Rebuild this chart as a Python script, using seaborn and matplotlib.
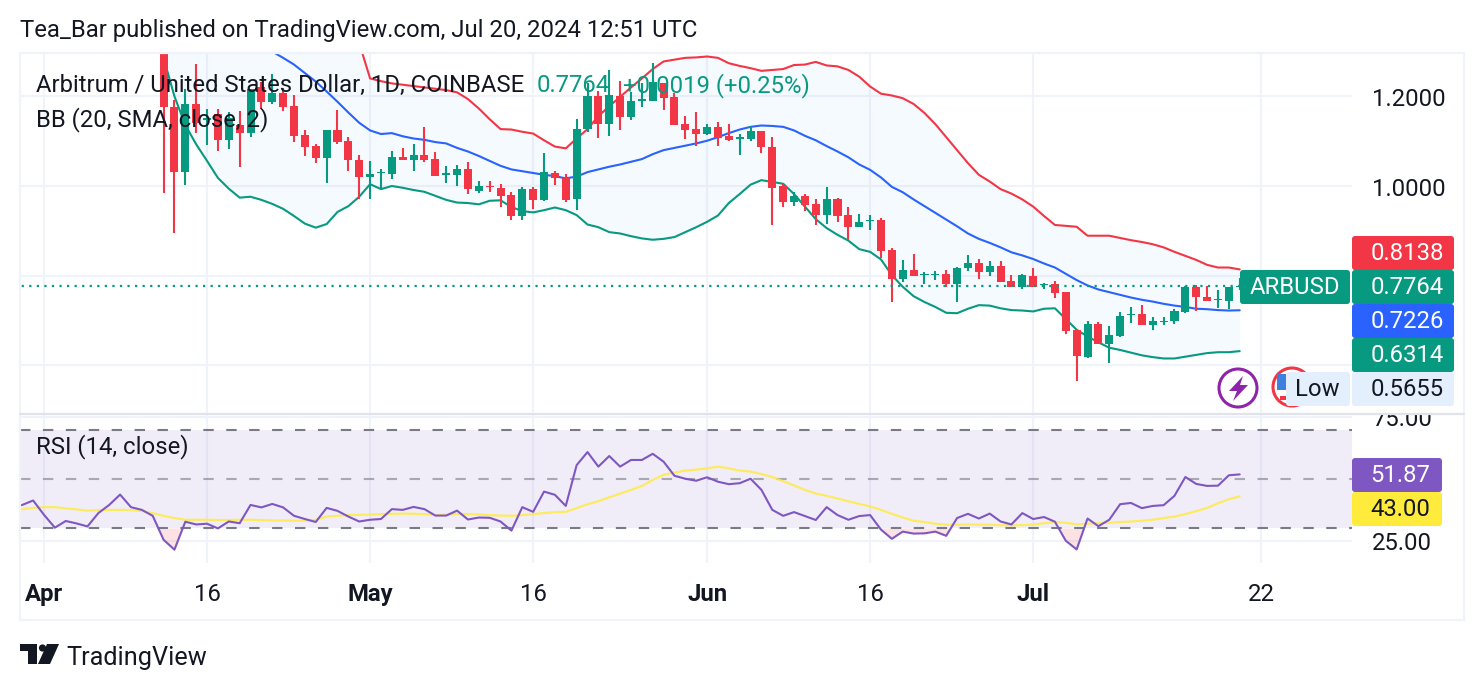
import numpy as np
import pandas as pd
import seaborn as sns
import matplotlib
matplotlib.use("Agg")
import matplotlib.pyplot as plt
from matplotlib.patches import Rectangle, FancyBboxPatch, Circle, Polygon
from matplotlib.transforms import ScaledTranslation

# Daily ARBUSD candles, 12 Apr to 20 Jul 2024
open_ = [1.34, 1.177, 1.032, 1.183, 1.147, 1.161, 1.103, 1.136, 1.119, 1.220,
         1.188, 1.208, 1.179, 1.114, 1.089, 1.063, 1.125, 1.100, 1.058, 1.021,
         1.028, 1.027, 1.064, 1.059, 1.069, 1.060, 1.025, 1.025, 1.039, 0.989,
         1.001, 0.995, 0.980, 0.934, 0.993, 0.969, 1.028, 1.017, 0.970, 1.127,
         1.201, 1.138, 1.201, 1.154, 1.190, 1.190, 1.229, 1.199, 1.138, 1.127,
         1.116, 1.131, 1.111, 1.105, 1.105, 1.122, 1.086, 0.999, 0.964, 0.978,
         0.960, 0.935, 0.972, 0.935, 0.909, 0.921, 0.924, 0.857, 0.792, 0.812,
         0.801, 0.801, 0.803, 0.781, 0.816, 0.827, 0.808, 0.821, 0.788, 0.775,
         0.800, 0.778, 0.781, 0.763, 0.678, 0.618, 0.692, 0.648, 0.665, 0.711,
         0.714, 0.690, 0.696, 0.699, 0.719, 0.774, 0.752, 0.745, 0.744, 0.7745]
close = [1.177, 1.032, 1.183, 1.141, 1.151, 1.103, 1.151, 1.118, 1.216, 1.188,
         1.208, 1.177, 1.112, 1.088, 1.063, 1.125, 1.098, 1.057, 1.021, 1.027,
         1.031, 1.064, 1.057, 1.069, 1.058, 1.023, 1.029, 1.039, 0.993, 1.001,
         0.997, 0.978, 0.934, 0.993, 0.969, 1.031, 1.017, 0.969, 1.127, 1.201,
         1.138, 1.203, 1.154, 1.190, 1.194, 1.231, 1.197, 1.137, 1.125, 1.117,
         1.131, 1.108, 1.103, 1.109, 1.122, 1.086, 0.996, 0.964, 0.978, 0.958,
         0.935, 0.972, 0.933, 0.909, 0.920, 0.924, 0.856, 0.792, 0.812, 0.798,
         0.804, 0.804, 0.781, 0.818, 0.829, 0.808, 0.821, 0.786, 0.775, 0.801,
         0.775, 0.781, 0.761, 0.676, 0.621, 0.692, 0.648, 0.667, 0.710, 0.714,
         0.690, 0.699, 0.699, 0.721, 0.774, 0.752, 0.744, 0.748, 0.774, 0.7764]
high = [1.40, 1.192, 1.216, 1.272, 1.171, 1.171, 1.166, 1.167, 1.216, 1.231,
        1.250, 1.218, 1.203, 1.125, 1.094, 1.126, 1.170, 1.109, 1.069, 1.055,
        1.039, 1.077, 1.085, 1.093, 1.131, 1.075, 1.045, 1.047, 1.053, 1.012,
        1.011, 1.004, 0.986, 0.997, 0.997, 1.073, 1.034, 1.026, 1.150, 1.229,
        1.211, 1.259, 1.234, 1.210, 1.229, 1.274, 1.229, 1.208, 1.156, 1.165,
        1.138, 1.143, 1.138, 1.115, 1.135, 1.122, 1.109, 1.006, 0.987, 0.981,
        0.972, 0.998, 0.973, 0.952, 0.938, 0.935, 0.928, 0.861, 0.835, 0.848,
        0.807, 0.811, 0.813, 0.820, 0.845, 0.836, 0.833, 0.833, 0.801, 0.803,
        0.816, 0.783, 0.788, 0.764, 0.679, 0.699, 0.696, 0.688, 0.719, 0.730,
        0.734, 0.708, 0.708, 0.725, 0.777, 0.779, 0.777, 0.768, 0.775, 0.795]
low = [0.985, 0.896, 1.003, 1.119, 1.092, 1.079, 1.082, 1.043, 1.109, 1.171,
       1.183, 1.167, 1.099, 1.066, 1.052, 1.006, 1.094, 1.034, 0.970, 0.970,
       0.994, 1.016, 1.057, 1.034, 1.054, 1.022, 1.007, 0.999, 0.982, 0.984,
       0.987, 0.952, 0.924, 0.924, 0.949, 0.967, 1.002, 0.964, 0.946, 1.121,
       1.107, 1.112, 1.124, 1.147, 1.177, 1.190, 1.170, 1.136, 1.105, 1.089,
       1.113, 1.089, 1.101, 1.070, 1.101, 1.074, 0.914, 0.952, 0.956, 0.944,
       0.914, 0.916, 0.920, 0.880, 0.909, 0.901, 0.839, 0.742, 0.786, 0.798,
       0.781, 0.790, 0.775, 0.742, 0.811, 0.793, 0.800, 0.786, 0.775, 0.769,
       0.774, 0.769, 0.751, 0.670, 0.5655, 0.615, 0.647, 0.606, 0.662, 0.694,
       0.690, 0.679, 0.689, 0.693, 0.717, 0.722, 0.743, 0.728, 0.725, 0.768]

# Bollinger Bands (20, SMA, close, 2), 11 Apr to 20 Jul
bb_upper = [1.70, 1.72, 1.72, 1.70, 1.68, 1.66, 1.64, 1.62, 1.60, 1.58,
            1.56, 1.54, 1.52, 1.50, 1.47, 1.44, 1.41, 1.38, 1.35, 1.319,
            1.240, 1.234, 1.229, 1.226, 1.223, 1.220, 1.217, 1.214, 1.209,
            1.194, 1.173, 1.149, 1.127, 1.126, 1.121, 1.117, 1.102, 1.088, 1.084,
            1.106, 1.127, 1.156, 1.178, 1.199, 1.220, 1.240, 1.261, 1.278, 1.282,
            1.286, 1.287, 1.289, 1.286, 1.274, 1.268, 1.263, 1.257, 1.259, 1.261,
            1.270, 1.271, 1.277, 1.269, 1.267, 1.259, 1.244, 1.222, 1.206, 1.202,
            1.196, 1.183, 1.163, 1.138, 1.109, 1.080, 1.051, 1.025, 1.010, 0.993,
            0.983, 0.970, 0.954, 0.933, 0.913, 0.911, 0.909, 0.889, 0.889, 0.889,
            0.884, 0.879, 0.875, 0.870, 0.863, 0.853, 0.844, 0.835, 0.824, 0.818,
            0.818, 0.8138]
bb_basis = [1.46, 1.45, 1.43, 1.41, 1.39, 1.375, 1.36, 1.345, 1.335, 1.325,
            1.315, 1.300, 1.286, 1.271, 1.252, 1.233, 1.211, 1.188, 1.164, 1.141,
            1.124, 1.116, 1.118, 1.111, 1.106, 1.103, 1.098, 1.095, 1.085,
            1.077, 1.067, 1.056, 1.045, 1.037, 1.033, 1.029, 1.025, 1.022, 1.017,
            1.021, 1.031, 1.037, 1.043, 1.048, 1.054, 1.060, 1.071, 1.080, 1.085,
            1.090, 1.095, 1.101, 1.109, 1.118, 1.126, 1.132, 1.135, 1.134, 1.132,
            1.124, 1.112, 1.102, 1.089, 1.077, 1.064, 1.048, 1.036, 1.019, 0.998,
            0.986, 0.970, 0.955, 0.940, 0.925, 0.910, 0.894, 0.882, 0.873, 0.863,
            0.852, 0.845, 0.837, 0.827, 0.818, 0.804, 0.790, 0.778, 0.769, 0.763,
            0.757, 0.751, 0.746, 0.742, 0.737, 0.733, 0.730, 0.726, 0.725, 0.723,
            0.722, 0.7226]
bb_lower = [1.40, 1.286, 1.200, 1.136, 1.093, 1.056, 1.018, 0.994, 0.974, 0.976,
            0.969, 0.960, 0.949, 0.933, 0.916, 0.907, 0.915, 0.942, 0.955, 0.976,
            1.004, 0.993, 1.000, 0.996, 0.991, 0.987, 0.978, 0.969, 0.963,
            0.962, 0.959, 0.967, 0.968, 0.953, 0.944, 0.941, 0.946, 0.952, 0.946,
            0.935, 0.914, 0.908, 0.897, 0.894, 0.888, 0.883, 0.880, 0.882, 0.886,
            0.897, 0.908, 0.920, 0.934, 0.962, 0.982, 1.003, 1.013, 1.009, 1.005,
            0.982, 0.954, 0.926, 0.906, 0.891, 0.878, 0.859, 0.853, 0.836, 0.801,
            0.775, 0.754, 0.741, 0.730, 0.717, 0.716, 0.726, 0.734, 0.733, 0.727,
            0.723, 0.722, 0.720, 0.726, 0.727, 0.703, 0.679, 0.664, 0.651, 0.639,
            0.634, 0.628, 0.622, 0.618, 0.615, 0.615, 0.619, 0.623, 0.627, 0.629,
            0.629, 0.6314]

# RSI (14, close) and its moving average, 29 Mar to 20 Jul
rsi = [38.9, 39.5, 41.3, 35.5, 30.3, 33.0, 32.0, 30.8, 36.2, 39.5, 43.7, 38.6, 37.5, 35.1,
       25.4, 21.4, 32.7, 31.6, 31.9, 30.0, 32.8, 32.1, 39.5, 38.5, 39.9, 38.5, 35.1, 33.8,
       32.6, 38.3, 37.1, 34.8, 32.8, 33.5, 33.8, 37.8, 37.5, 38.7, 37.8, 35.2, 35.2, 37.2,
       33.6, 34.4, 34.3, 32.8, 29.1, 38.6, 36.7, 44.9, 43.6, 39.1, 55.6, 60.9, 55.0, 59.3,
       55.0, 57.7, 57.7, 60.2, 57.0, 51.3, 50.1, 49.3, 50.7, 48.9, 47.9, 48.3, 50.1, 45.6,
       37.5, 35.1, 36.6, 35.0, 33.4, 38.6, 35.4, 33.5, 35.0, 35.4, 29.5, 25.8, 28.7, 27.9,
       28.0, 28.7, 27.0, 34.2, 35.9, 34.0, 36.0, 32.8, 31.6, 36.2, 33.8, 34.6, 32.7, 25.0,
       21.5, 34.0, 30.9, 33.5, 39.8, 40.3, 38.2, 39.1, 39.4, 43.2, 50.8, 48.0, 47.2, 47.3,
       51.5, 51.87]
rsi_ma = [37.8, 37.8, 38.3, 38.6, 38.6, 38.1, 37.7, 37.2, 37.4, 37.5, 37.5, 37.4, 37.1, 36.2,
          35.1, 34.2, 33.5, 33.5, 33.5, 33.4, 33.4, 33.5, 33.5, 33.4, 33.2, 33.2, 33.1, 33.1,
          33.5, 34.8, 35.1, 35.4, 35.5, 35.6, 35.8, 35.9, 36.0, 35.9, 35.8, 35.4, 35.5, 35.9,
          35.8, 35.6, 35.4, 35.2, 35.1, 35.4, 35.8, 36.2, 36.6, 36.7, 38.2, 39.8, 41.0, 42.6,
          44.1, 45.6, 47.2, 49.6, 51.7, 52.6, 53.4, 53.8, 54.3, 55.0, 54.3, 53.4, 53.0, 52.0,
          50.8, 49.1, 47.4, 45.6, 44.1, 43.2, 42.1, 41.0, 39.9, 38.9, 37.5, 35.9, 34.4, 33.1,
          32.6, 31.9, 31.5, 31.5, 31.6, 31.5, 31.5, 31.3, 31.2, 31.3, 31.6, 32.1, 32.6, 32.3,
          31.6, 31.9, 32.1, 32.3, 32.6, 32.8, 33.1, 33.5, 34.2, 34.8, 35.8, 37.0, 38.3, 40.2,
          41.8, 43.0]

price_ticks = [1.2, 1.0, 0.8, 0.6]
price_labels = ["1.2000", "1.0000", "", ""]
rsi_ticks = [75, 25]
rsi_labels = ["75.00", "25.00"]
date_ticks = ["2024-04-01", "2024-04-16", "2024-05-01", "2024-05-16",
              "2024-06-01", "2024-06-16", "2024-07-01", "2024-07-22"]
date_labels = ["Apr", "16", "May", "16", "Jun", "16", "Jul", "22"]
month_labels = {"Apr", "May", "Jun", "Jul"}

RED, GREEN, BLUE = "#F23645", "#089981", "#2962FF"
PURPLE, YELLOW = "#7E57C2", "#FFEB3B"
INK, GRID, EDGE = "#131722", "#F0F3FA", "#E0E3EB"
W, H = 1484, 690
TEXT_SIZE = 17.2

sns.set_theme(style="white")
plt.rcParams["font.family"] = ["Roboto", "DejaVu Sans"]

candles = pd.DataFrame({"open": open_, "high": high, "low": low, "close": close},
                       index=pd.date_range("2024-04-12", periods=len(open_)))
bands = pd.DataFrame({"upper": bb_upper, "basis": bb_basis, "lower": bb_lower},
                     index=pd.date_range("2024-07-20", periods=len(bb_upper), freq="-1D")[::-1])
osc = pd.DataFrame({"rsi": rsi, "ma": rsi_ma},
                   index=pd.date_range("2024-07-20", periods=len(rsi), freq="-1D")[::-1])
xlim = (pd.Timestamp("2024-04-01") - pd.Timedelta(days=2.208),
        pd.Timestamp("2024-04-01") + pd.Timedelta(days=120.33))


def pane(x0, y0, x1, y1, **kw):
    return fig.add_axes([x0 / W, 1 - y1 / H, (x1 - x0) / W, (y1 - y0) / H], **kw)


fig = plt.figure(figsize=(W / 100, H / 100), dpi=100, facecolor="white")
ax = pane(20, 54, 1352, 413)
ax_rsi = pane(20, 415, 1352, 563)

for a, ticks, labels in ((ax, price_ticks, price_labels), (ax_rsi, rsi_ticks, rsi_labels)):
    a.set_xlim(*xlim)
    a.set_xticks(pd.to_datetime(date_ticks))
    a.set_yticks(ticks)
    a.set_yticklabels(labels)
    a.yaxis.tick_right()
    a.tick_params(axis="y", length=0, pad=14.3, labelsize=TEXT_SIZE, labelcolor=INK)
    a.grid(True, color=GRID, linewidth=1.5)
    a.set_axisbelow(True)
    for s in a.spines.values():
        s.set_visible(False)
ax.set_ylim(0.4933, 1.2946)
ax_rsi.set_ylim(16.0, 75.9)
ax.tick_params(axis="x", labelbottom=False, length=0)

# Price pane: Bollinger channel under the candles
ax.fill_between(bands.index, bands["lower"], bands["upper"], color="#2196F3", alpha=0.045, lw=0)
sns.lineplot(x=bands.index, y=bands["upper"].values, ax=ax, color=RED, lw=1.5, legend=False)
sns.lineplot(x=bands.index, y=bands["basis"].values, ax=ax, color=BLUE, lw=1.5, legend=False)
sns.lineplot(x=bands.index, y=bands["lower"].values, ax=ax, color=GREEN, lw=1.5, legend=False)

up = candles["close"] >= candles["open"]
tones = np.where(up, GREEN, RED)
ax.vlines(candles.index, candles["low"], candles["high"], colors=tones, lw=1.5, zorder=3)
ax.bar(candles.index, (candles["close"] - candles["open"]).abs(),
       bottom=candles[["open", "close"]].min(axis=1), width=0.74, color=tones, lw=0, zorder=4)
ax.plot([bands.index[0] - pd.Timedelta(days=15), bands.index[-1]], [close[-1]] * 2,
        color=GREEN, lw=1.6, ls=(0, (1, 2.4)), zorder=5)
ax.set_xlim(*xlim)
ax.set_xlabel("")
ax.set_ylabel("")

# RSI pane
ax_rsi.axhspan(30, 70, color=PURPLE, alpha=0.1, lw=0)
for level, alpha in ((70, 1.0), (50, 0.6), (30, 1.0)):
    ax_rsi.axhline(level, color="#787B86", lw=1.5, alpha=alpha, ls=(0, (5, 6)))
ax_rsi.fill_between(osc.index, osc["rsi"], 30, where=osc["rsi"] < 30, interpolate=True,
                    color=RED, alpha=0.14, lw=0)
sns.lineplot(x=osc.index, y=osc["ma"].values, ax=ax_rsi, color=YELLOW, lw=1.6, alpha=0.8, legend=False)
sns.lineplot(x=osc.index, y=osc["rsi"].values, ax=ax_rsi, color=PURPLE, lw=1.5, legend=False)
ax_rsi.set_xlim(*xlim)
ax_rsi.set_xlabel("")
ax_rsi.set_ylabel("")
ax_rsi.set_xticks(pd.to_datetime(date_ticks))
ax_rsi.set_xticklabels(date_labels)
ax_rsi.tick_params(axis="x", length=0, pad=14.5, labelsize=TEXT_SIZE, labelcolor=INK)
for tick in ax_rsi.get_xticklabels():
    if tick.get_text() in month_labels:
        tick.set_fontweight("bold")

# Axis labels sit a pixel lower than matplotlib centres them
nudge = ScaledTranslation(0, -1 / 100, fig.dpi_scale_trans)
for lab in ax.get_yticklabels():
    lab.set_transform(lab.get_transform() + nudge)

# Overlay in figure pixels for frame, legend text, price tags and the logo
ov = fig.add_axes([0, 0, 1, 1], zorder=10)
ov.set_xlim(0, W)
ov.set_ylim(H, 0)
ov.axis("off")
ov.patch.set_alpha(0)

ov.add_patch(Rectangle((20, 53), 1444, 567, fill=False, ec=GRID, lw=1.6))
ov.add_patch(Rectangle((1353, 404), 110, 9, fc="white", ec="none"))
ov.plot([20, 1464], [413.5, 413.5], color=EDGE, lw=1.6)

ov.text(20, 31, "Tea_Bar published on TradingView.com, Jul 20, 2024 12:51 UTC",
        fontsize=TEXT_SIZE, color=INK, va="center")
ov.text(36, 85.5, "Arbitrum / United States Dollar, 1D, COINBASE", fontsize=TEXT_SIZE, color=INK, va="center")
ov.text(537, 85.5, "0.7764", fontsize=TEXT_SIZE, color=GREEN, va="center")
ov.text(623, 85.5, "+0.0019 (+0.25%)", fontsize=TEXT_SIZE, color=GREEN, va="center")
ov.text(36, 119.5, "BB (20, SMA, close, 2)", fontsize=TEXT_SIZE, color=INK, va="center")
ov.text(36, 446.5, "RSI (14, close)", fontsize=TEXT_SIZE, color=INK, va="center")

# Indicator shortcuts at the right of the price pane
ov.add_patch(Circle((1238, 388), 19, fc="white", ec="#8E24AA", lw=2.2))
ov.add_patch(Polygon([(1243, 376), (1229, 391), (1237, 391), (1233, 401), (1248, 385),
                      (1240, 385)], fc="#8E24AA", ec="none"))
ov.add_patch(Circle((1292, 387), 19, fc="white", ec=RED, lw=2.2))
ov.add_patch(Rectangle((1277, 374), 12, 16, fc="#3F7FE0", ec="none"))
ov.add_patch(Rectangle((1280, 396), 8, 4, fc=RED, ec="none"))


def tag(x0, x1, yc, text, face, ink="white", right=None):
    ov.add_patch(FancyBboxPatch((x0 + 1, yc - 16), x1 - x0 - 2, 32, boxstyle="round,pad=0,rounding_size=2",
                                fc=face, ec=face, lw=1.44))
    ov.text(right, yc + 1, text, fontsize=TEXT_SIZE, color=ink, va="center", ha="right")


tag(1352, 1454, 253, "0.8138", RED, right=1444)
tag(1352, 1454, 321, "0.7226", BLUE, right=1444)
tag(1352, 1454, 355, "0.6314", GREEN, right=1444)
tag(1352, 1454, 287, "0.7764", GREEN, right=1444)
tag(1240, 1350, 287, "ARBUSD", GREEN, right=1340)
tag(1286, 1350, 389, "Low", "#E3EFFD", ink=INK, right=1340)
tag(1352, 1454, 389, "0.5655", "#E3EFFD", ink=INK, right=1444)
tag(1352, 1442, 475, "51.87", PURPLE, right=1430)
tag(1352, 1442, 509, "43.00", YELLOW, ink=INK, right=1430)

# Footer logo and wordmark
ov.add_patch(Polygon([(20, 644), (37, 644), (37, 664), (28, 664), (28, 651), (20, 651)], fc=INK, ec="none"))
ov.add_patch(Circle((42.5, 648), 3.6, fc=INK, ec="none"))
ov.add_patch(Polygon([(47, 644), (59, 644), (50, 664), (38, 664)], fc=INK, ec="none"))
ov.text(66.5, 657.5, "TradingView", fontsize=18.2, color=INK, va="center")

fig.savefig("out.png", dpi=100)
